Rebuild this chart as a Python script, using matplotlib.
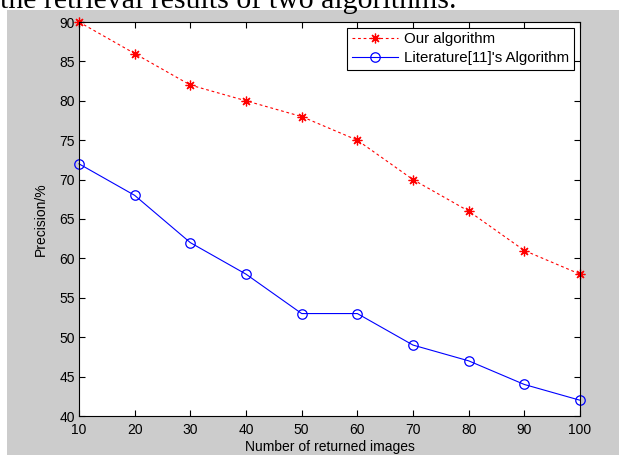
import matplotlib
matplotlib.use("Agg")
import matplotlib.pyplot as plt
from matplotlib.patches import Rectangle

# returned image counts and precision values (%)
returned = [10, 20, 30, 40, 50, 60, 70, 80, 90, 100]
ours = [90, 86, 82, 80, 78, 75, 70, 66, 61, 58]
literature = [72, 68, 62, 58, 53, 53, 49, 47, 44, 42]

plt.rcParams["font.family"] = ["Liberation Sans", "DejaVu Sans"]

W, H = 619, 455
fig = plt.figure(figsize=(W / 100, H / 100), dpi=100, facecolor="white")

# grey MATLAB figure window area
fig.patches.append(Rectangle((7 / W, 0), 1 - 7 / W, (H - 10) / H, transform=fig.transFigure,
                             facecolor="#cccccc", edgecolor="none", zorder=-10))

# caption text cut off at the top of the screenshot
fig.text(0.0, 1 - 7.5 / H, "the retrieval results of two algorithms.", family="Liberation Serif",
         fontsize=21.5, ha="left", va="baseline", color="black")

ax = fig.add_axes([79 / W, 1 - 416 / H, (580 - 79) / W, (416 - 22) / H])
ax.set_facecolor("white")

ax.plot(returned, ours, color="red", linestyle=(0, (2.5, 2.5)), linewidth=0.8, marker=(8, 2, 0),
        markersize=7, markeredgewidth=0.9, label="Our algorithm", clip_on=False)
ax.plot(returned, literature, color="blue", linestyle="-", linewidth=0.8, marker="o",
        markersize=6.8, markerfacecolor="none", markeredgewidth=0.9,
        label="Literature[11]'s Algorithm", clip_on=False)

ax.set_xlim(10, 100)
ax.set_ylim(40, 90)
ax.set_xticks(returned)
ax.set_yticks(range(40, 91, 5))
ax.tick_params(direction="in", top=True, right=True, length=4, width=0.8,
               labelsize=10, colors="black")
ax.tick_params(axis="y", pad=3)
ax.tick_params(axis="x", pad=5)
for s in ax.spines.values():
    s.set_linewidth(0.8)

ax.set_xlabel("Number of returned images", fontsize=10, labelpad=2)
ax.set_ylabel("Precision/%", fontsize=10, labelpad=8)

leg = ax.legend(loc="upper right", fontsize=10.8, fancybox=False, framealpha=1,
                edgecolor="black", borderaxespad=0.4, handlelength=3.1,
                handletextpad=0.4, borderpad=0.3, labelspacing=0.3)
leg.get_frame().set_linewidth(0.8)

fig.savefig("out.png", dpi=100, facecolor="white")
